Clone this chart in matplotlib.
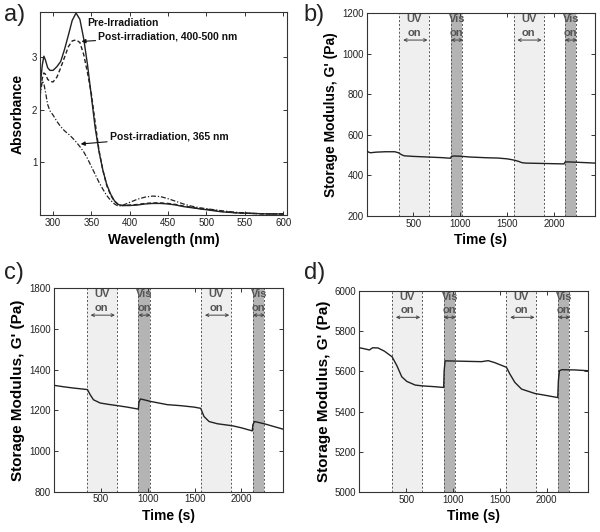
import matplotlib
matplotlib.use("Agg")
import matplotlib.pyplot as plt

plt.rcParams['font.family'] = ['Liberation Sans', 'DejaVu Sans']

# ---------------- Panel a data ----------------
wavelength = [283, 286, 288, 290, 293, 296, 300, 305, 310, 315, 320, 325, 330, 335, 340,
              345, 350, 355, 360, 365, 370, 375, 380, 385, 390, 400, 410, 420, 430, 440,
              450, 460, 470, 480, 490, 500, 520, 540, 560, 580, 600]
abs_pre = [2.43, 2.85, 3.02, 2.95, 2.80, 2.75, 2.75, 2.82, 2.92, 3.15, 3.42, 3.70, 3.84, 3.72, 3.35,
           2.85, 2.25, 1.65, 1.20, 0.85, 0.58, 0.40, 0.27, 0.20, 0.18, 0.18, 0.19, 0.21, 0.22, 0.22,
           0.21, 0.19, 0.16, 0.14, 0.12, 0.10, 0.06, 0.04, 0.03, 0.02, 0.02]
abs_vis = [2.30, 2.60, 2.70, 2.68, 2.58, 2.54, 2.53, 2.62, 2.80, 3.00, 3.20, 3.31, 3.33, 3.28, 3.05,
           2.70, 2.30, 1.75, 1.22, 0.85, 0.56, 0.38, 0.26, 0.20, 0.18, 0.19, 0.20, 0.22, 0.23, 0.23,
           0.22, 0.20, 0.17, 0.15, 0.12, 0.11, 0.07, 0.04, 0.03, 0.02, 0.02]
abs_uv = [2.25, 2.55, 2.50, 2.35, 2.10, 1.98, 1.90, 1.78, 1.68, 1.60, 1.54, 1.47, 1.39, 1.30, 1.20,
          1.07, 0.92, 0.77, 0.62, 0.49, 0.37, 0.28, 0.21, 0.17, 0.18, 0.24, 0.30, 0.34, 0.36, 0.35,
          0.31, 0.26, 0.21, 0.17, 0.14, 0.12, 0.08, 0.05, 0.03, 0.02, 0.02]

# ---------------- Irradiation windows (s) ----------------
uv_windows = [(350, 670), (1570, 1890)]
vis_windows = [(900, 1020), (2120, 2240)]

# ---------------- Panel b data ----------------
t_b = [0, 20, 40, 100, 200, 300, 340, 370, 400, 500, 600, 700, 800, 895, 905, 930, 1000, 1100,
       1200, 1300, 1400, 1500, 1550, 1580, 1620, 1660, 1700, 1800, 1900, 2000, 2110, 2120, 2150,
       2250, 2350, 2440]
g_b = [522, 515, 512, 515, 517, 517, 512, 503, 497, 494, 492, 490, 488, 485, 494, 496, 495, 491,
       489, 487, 486, 482, 478, 475, 470, 463, 461, 460, 459, 458, 457, 466, 467, 465, 463, 461]

# ---------------- Panel c data ----------------
t_c = [0, 100, 200, 300, 357, 386, 421, 493, 600, 679, 779, 900, 906, 922, 960, 1029, 1208, 1350,
       1493, 1565, 1600, 1654, 1744, 1905, 2000, 2115, 2122, 2140, 2243, 2440]
g_c = [1323, 1316, 1310, 1305, 1302, 1277, 1252, 1236, 1228, 1223, 1216, 1206, 1240, 1256, 1252,
       1244, 1228, 1223, 1216, 1210, 1170, 1145, 1134, 1124, 1114, 1099, 1130, 1145, 1134, 1108]

# ---------------- Panel d data ----------------
t_d = [0, 54, 107, 143, 200, 268, 321, 350, 400, 453, 507, 596, 668, 800, 900, 905, 915, 1018,
       1303, 1375, 1446, 1500, 1570, 1606, 1660, 1731, 1874, 1950, 2117, 2124, 2135, 2160, 2300, 2440]
g_d = [5717, 5712, 5706, 5717, 5716, 5700, 5682, 5672, 5629, 5573, 5550, 5532, 5528, 5524, 5520,
       5600, 5652, 5651, 5648, 5653, 5643, 5633, 5620, 5587, 5545, 5512, 5490, 5484, 5470, 5553,
       5603, 5608, 5607, 5603]

fig = plt.figure(figsize=(6.0, 5.32), dpi=100)

LINE = '#222222'
SPINE = '#333333'


def style_axes(ax):
    for s in ax.spines.values():
        s.set_linewidth(0.8)
        s.set_color(SPINE)
    ax.tick_params(direction='in', top=True, right=True, length=3, width=0.7,
                   labelsize=7, pad=2, colors=SPINE, labelcolor='#222222')


def rheo_panel(rect, t, g, ylim, yticks, label, ylabel_size):
    ax = fig.add_axes(rect)
    y0, y1 = ylim
    span = y1 - y0
    for (a, b) in uv_windows:
        ax.axvspan(a, b, color='#efefef', lw=0, zorder=0)
    for (a, b) in vis_windows:
        ax.axvspan(a, b, color='#b4b4b4', lw=0, zorder=0)
    for (a, b) in uv_windows + vis_windows:
        for xv in (a, b):
            ax.axvline(xv, color='#555555', lw=0.7, ls=(0, (2, 2)), zorder=1)
    ax.plot(t, g, color=LINE, lw=1.0, zorder=3)
    for (a, b) in uv_windows:
        c = (a + b) / 2
        ax.text(c, y1 - 0.03 * span, 'UV', ha='center', va='center', fontsize=8,
                fontweight='bold', color='#555555')
        ax.text(c, y1 - 0.095 * span, 'on', ha='center', va='center', fontsize=8,
                fontweight='bold', color='#555555')
        ax.annotate('', xy=(a + 40, y1 - 0.132 * span), xytext=(b - 20, y1 - 0.132 * span),
                    arrowprops=dict(arrowstyle='<->', color='#444444', lw=0.7,
                                    mutation_scale=5, shrinkA=0, shrinkB=0))
    for (a, b) in vis_windows:
        c = (a + b) / 2
        ax.text(c + 5, y1 - 0.03 * span, 'Vis', ha='center', va='center', fontsize=8,
                fontweight='bold', color='#555555')
        ax.text(c, y1 - 0.095 * span, 'on', ha='center', va='center', fontsize=8,
                fontweight='bold', color='#555555')
        ax.annotate('', xy=(a, y1 - 0.132 * span), xytext=(b + 10, y1 - 0.132 * span),
                    arrowprops=dict(arrowstyle='<->', color='#444444', lw=0.7,
                                    mutation_scale=5, shrinkA=0, shrinkB=0))
    ax.set_xlim(0, 2440)
    ax.set_ylim(*ylim)
    ax.set_xticks([500, 1000, 1500, 2000])
    ax.set_yticks(yticks)
    style_axes(ax)
    ax.set_xlabel('Time (s)', fontsize=10, fontweight='bold', labelpad=3)
    ax.set_ylabel("Storage Modulus, G' (Pa)", fontsize=ylabel_size, fontweight='bold', labelpad=3)
    return ax


# ---------------- Panel a ----------------
ax_a = fig.add_axes([40 / 600, 1 - 215 / 532, 247 / 600, 203 / 532])
ax_a.plot(wavelength, abs_pre, color=LINE, lw=1.0, ls='-')
ax_a.plot(wavelength, abs_vis, color=LINE, lw=1.0, ls=(0, (3, 1.8)))
ax_a.plot(wavelength, abs_uv, color=LINE, lw=0.9, ls=(0, (4, 1.5, 1, 1.5)))
ax_a.set_xlim(283, 605)
ax_a.set_ylim(0, 3.86)
ax_a.set_xticks([300, 350, 400, 450, 500, 550, 600])
ax_a.set_yticks([1, 2, 3])
style_axes(ax_a)
ax_a.set_xlabel('Wavelength (nm)', fontsize=10, fontweight='bold', labelpad=4)
ax_a.set_ylabel('Absorbance', fontsize=10, fontweight='bold', labelpad=5)
ax_a.text(344, 3.66, 'Pre-Irradiation', fontsize=7.5, fontweight='bold', va='center', color='#111111')
ax_a.annotate('Post-irradiation, 400-500 nm', xy=(337, 3.30), xytext=(359, 3.40),
              fontsize=7.5, fontweight='bold', va='center', color='#111111',
              arrowprops=dict(arrowstyle='-|>', color='#111111', lw=0.8,
                              mutation_scale=6, shrinkA=0, shrinkB=0))
ax_a.annotate('Post-irradiation, 365 nm', xy=(336, 1.35), xytext=(374, 1.49),
              fontsize=7.5, fontweight='bold', va='center', color='#111111',
              arrowprops=dict(arrowstyle='-|>', color='#111111', lw=0.8,
                              mutation_scale=6, shrinkA=0, shrinkB=0))

# ---------------- Panels b, c, d ----------------
rheo_panel([366.7 / 600, 1 - 216 / 532, 228.3 / 600, 202.7 / 532], t_b, g_b, (200, 1200),
           [200, 400, 600, 800, 1000, 1200], 'b', 10)
rheo_panel([54 / 600, 1 - 491.7 / 532, 228.7 / 600, 203.4 / 532], t_c, g_c, (800, 1800),
           [800, 1000, 1200, 1400, 1600, 1800], 'c', 11)
rheo_panel([359.3 / 600, 1 - 492.3 / 532, 228.7 / 600, 201.6 / 532], t_d, g_d, (5000, 6000),
           [5000, 5200, 5400, 5600, 5800, 6000], 'd', 11)

# panel letters
for x, y, s in [(4, 4, 'a)'), (303, 4, 'b)'), (4, 262, 'c)'), (304, 262, 'd)')]:
    fig.text(x / 600, 1 - y / 532, s, fontsize=17, va='top', ha='left', color='#222222')

fig.savefig('out.png', dpi=100)
